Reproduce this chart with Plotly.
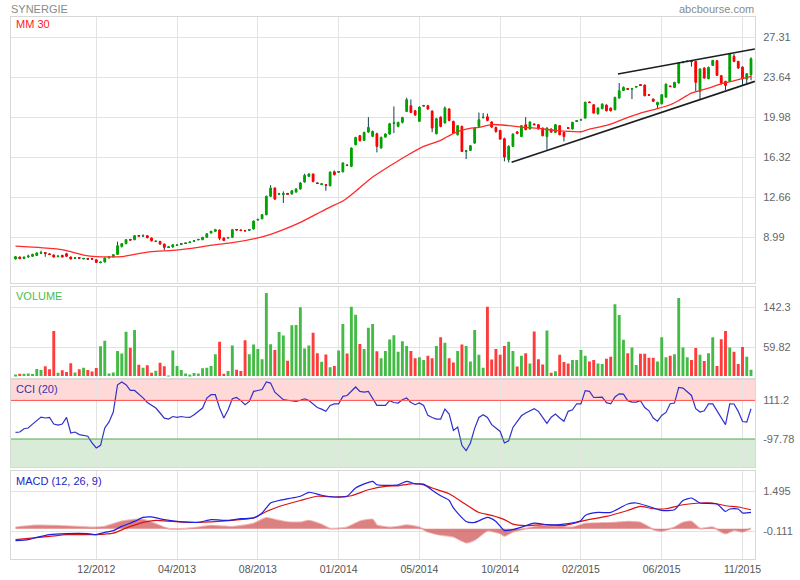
import plotly.graph_objects as go
from plotly.subplots import make_subplots

# ---------------- data ----------------
tick_idx = [19, 38, 57, 76, 95, 114, 133, 152, 171]
tick_labels = ["12/2012", "04/2013", "08/2013", "01/2014", "05/2014",
               "10/2014", "02/2015", "06/2015", "11/2015"]

opens = [7.00, 7.18, 7.03, 7.20, 7.24, 7.32, 7.55, 7.58, 7.44, 7.36,
         7.22, 7.33, 7.48, 7.18, 7.06, 7.11, 7.02, 7.01, 7.02, 6.93,
         6.68, 6.72, 7.09, 7.18, 7.42, 8.15, 8.40, 8.78, 8.76, 9.14,
         9.10, 9.13, 8.92, 8.59, 8.61, 8.37, 8.06, 8.09, 8.24, 8.36,
         8.42, 8.51, 8.63, 8.76, 8.76, 8.98, 9.37, 9.53, 9.65, 8.92,
         8.93, 8.98, 9.70, 9.64, 9.60, 9.64, 9.74, 10.58, 10.69, 11.05,
         12.73, 13.49, 12.92, 12.93, 12.98, 12.94, 13.12, 13.40, 14.04, 14.56,
         14.77, 13.94, 13.83, 13.78, 13.70, 14.98, 14.96, 14.98, 15.58, 15.47,
         17.45, 18.28, 17.85, 18.61, 18.22, 18.46, 17.15, 18.15, 18.43, 19.42,
         19.13, 19.50, 20.50, 21.02, 20.56, 19.59, 21.00, 21.02, 20.53, 18.46,
         19.98, 19.44, 20.72, 19.59, 18.37, 19.13, 16.85, 16.93, 17.60, 19.13,
         19.93, 20.01, 19.53, 19.04, 18.76, 18.00, 16.08, 17.30, 18.62, 18.20,
         19.28, 18.89, 19.34, 19.28, 18.98, 18.20, 18.89, 18.58, 19.19, 18.58,
         19.00, 18.89, 19.60, 19.72, 19.89, 21.35, 21.11, 20.29, 20.75, 21.08,
         20.81, 20.66, 21.72, 22.42, 22.57, 22.56, 22.74, 22.93, 22.91, 22.02,
         21.63, 21.11, 21.20, 21.81, 22.81, 22.70, 23.10, 24.97, 25.06, 25.10,
         25.08, 22.33, 24.47, 23.49, 24.71, 25.14, 23.77, 23.25, 23.25, 25.54,
         25.08, 24.56, 23.46, 23.86]

highs = [7.25, 7.22, 7.22, 7.40, 7.48, 7.60, 7.76, 7.62, 7.50, 7.42,
         7.30, 7.38, 7.56, 7.22, 7.14, 7.16, 7.10, 7.06, 7.05, 6.96,
         6.74, 7.12, 7.22, 7.42, 8.58, 8.45, 8.80, 8.84, 9.18, 9.20,
         9.25, 9.18, 8.96, 8.70, 8.65, 8.40, 8.15, 8.35, 8.32, 8.42,
         8.48, 8.56, 8.68, 8.82, 9.02, 9.35, 9.58, 9.75, 9.70, 8.98,
         9.00, 9.72, 9.74, 9.68, 9.66, 9.74, 10.52, 10.68, 11.12, 12.80,
         13.75, 13.55, 13.05, 13.18, 13.05, 13.30, 13.48, 14.05, 14.80, 14.85,
         14.82, 14.00, 13.90, 13.86, 15.00, 15.10, 15.02, 15.85, 15.65, 17.20,
         18.18, 18.35, 18.65, 19.98, 18.75, 18.55, 18.20, 18.50, 19.45, 20.96,
         19.55, 20.00, 21.75, 21.60, 20.62, 20.95, 21.10, 21.10, 20.60, 19.90,
         20.05, 20.95, 20.80, 19.65, 19.25, 19.20, 16.95, 17.42, 19.05, 20.40,
         20.35, 20.30, 19.60, 19.10, 18.82, 18.10, 17.40, 18.50, 18.70, 19.25,
         19.98, 19.60, 19.40, 19.35, 19.02, 19.05, 18.95, 19.35, 19.25, 18.62,
         19.05, 19.55, 19.70, 19.82, 21.40, 21.40, 21.18, 20.88, 21.25, 21.15,
         20.86, 21.85, 23.10, 22.78, 22.62, 22.65, 22.82, 22.97, 22.96, 22.06,
         21.68, 21.38, 22.08, 23.05, 22.85, 23.20, 25.00, 25.05, 25.12, 25.15,
         25.12, 24.45, 24.55, 24.60, 25.20, 25.20, 23.82, 23.30, 25.80, 25.75,
         25.12, 24.62, 24.00, 25.45]

lows = [6.95, 6.98, 7.00, 7.10, 7.20, 7.28, 7.45, 7.20, 7.35, 7.12,
        7.15, 7.12, 7.20, 6.95, 7.00, 7.02, 6.98, 6.95, 6.94, 6.66,
        6.60, 6.68, 7.05, 7.15, 7.40, 8.05, 8.35, 8.68, 8.72, 9.06,
        9.05, 8.90, 8.60, 8.55, 8.30, 7.79, 8.02, 8.05, 8.20, 8.30,
        8.38, 8.46, 8.58, 8.72, 8.72, 8.95, 9.34, 9.50, 8.72, 8.62,
        8.88, 8.95, 9.62, 9.55, 9.52, 9.60, 9.70, 10.50, 10.62, 11.00,
        12.68, 12.40, 12.85, 12.12, 12.90, 12.90, 13.08, 13.35, 14.00, 14.50,
        14.00, 13.85, 13.75, 13.24, 13.65, 14.65, 14.90, 14.92, 15.50, 15.40,
        17.40, 17.75, 17.80, 18.55, 18.15, 16.75, 17.10, 18.10, 18.38, 18.52,
        19.05, 19.40, 20.45, 20.35, 20.10, 19.55, 20.95, 20.65, 18.60, 18.40,
        19.05, 19.40, 19.60, 18.45, 18.30, 16.80, 16.14, 16.88, 17.55, 19.08,
        19.85, 19.60, 19.00, 18.55, 17.90, 15.93, 15.84, 17.25, 18.40, 18.15,
        18.78, 18.85, 19.25, 18.84, 18.22, 17.00, 18.55, 18.52, 18.32, 17.76,
        18.92, 18.85, 19.55, 19.68, 19.85, 21.28, 20.30, 20.20, 20.70, 20.50,
        20.50, 20.60, 21.68, 22.38, 22.50, 21.63, 22.70, 22.86, 21.88, 21.95,
        21.38, 20.75, 21.15, 21.76, 22.74, 22.65, 23.05, 24.90, 25.00, 24.60,
        22.33, 21.63, 23.50, 23.45, 24.66, 23.75, 22.95, 22.45, 23.20, 25.00,
        24.40, 22.90, 22.95, 23.35]

closes = [7.21, 7.03, 7.18, 7.26, 7.42, 7.55, 7.58, 7.52, 7.42, 7.18,
          7.26, 7.18, 7.24, 7.00, 7.10, 7.08, 7.05, 7.00, 6.99, 6.69,
          6.70, 7.09, 7.18, 7.39, 8.21, 8.40, 8.76, 8.74, 9.13, 9.11,
          9.14, 8.95, 8.67, 8.62, 8.37, 8.06, 8.09, 8.30, 8.27, 8.39,
          8.45, 8.54, 8.66, 8.79, 8.98, 9.31, 9.53, 9.68, 8.89, 8.70,
          8.97, 9.68, 9.66, 9.60, 9.58, 9.68, 10.47, 10.62, 11.05, 12.73,
          13.49, 12.48, 12.96, 12.96, 12.93, 13.24, 13.40, 13.95, 14.65, 14.77,
          14.10, 13.91, 13.86, 13.76, 14.95, 14.71, 14.99, 15.78, 15.55, 17.15,
          18.12, 17.82, 18.58, 19.04, 18.67, 17.30, 18.12, 18.43, 19.37, 19.46,
          19.50, 19.95, 21.57, 20.41, 20.17, 20.90, 21.04, 20.72, 18.98, 19.83,
          19.13, 20.81, 19.68, 18.52, 19.19, 16.84, 16.88, 17.36, 18.98, 19.74,
          19.97, 19.68, 19.07, 18.67, 17.97, 16.32, 17.30, 18.43, 18.50, 19.19,
          18.83, 19.53, 19.28, 18.89, 18.28, 18.98, 18.61, 19.28, 18.37, 18.20,
          18.96, 19.50, 19.64, 19.76, 21.33, 21.31, 20.35, 20.81, 21.17, 20.56,
          20.56, 21.78, 22.39, 22.70, 22.53, 22.60, 22.78, 22.89, 21.94, 21.98,
          21.42, 21.33, 22.03, 23.00, 22.77, 23.16, 24.93, 25.01, 25.10, 25.06,
          23.16, 24.38, 23.55, 24.53, 25.17, 23.80, 23.10, 22.88, 25.75, 25.08,
          24.47, 23.49, 23.95, 25.32]

volumes = [3.5, 4.9, 4.9, 5.6, 4.2, 14.6, 12.5, 20.1, 13.9, 92.9,
           7.0, 11.8, 8.3, 26.4, 7.6, 13.9, 17.3, 12.5, 9.7, 16.6,
           61.7, 72.8, 5.6, 7.6, 52, 46.5, 91.5, 58.3, 95, 23.6,
           17.3, 22.2, 7.0, 11.1, 27.7, 20.1, 1.4, 52.7, 20.8, 12.5,
           5.6, 2.8, 6.3, 5.6, 16, 17.3, 20.8, 45, 70.7, 4.9,
           10.4, 63, 13.2, 10.4, 74.2, 45, 65, 56, 34.7, 171.3,
           65.7, 53.9, 90.8, 83.9, 31.9, 104.8, 105.5, 142.3, 56.7, 63,
           89.4, 47.1, 29.8, 44.4, 18, 20.8, 52.7, 107.5, 46.5, 143,
           126.4, 66.4, 56, 100, 107.5, 51.4, 36.8, 52, 75.5, 84.5, 50,
           72, 62, 52, 37, 39, 33, 42, 37, 62, 80,
           69, 37, 28, 52, 65, 62, 30, 95, 44, 17,
           143, 34, 56, 44, 62, 71, 52, 20, 42, 47,
           26, 92, 35, 24, 94, 7, 10, 44, 29, 26,
           33, 33, 54, 42, 30, 33, 26, 25, 36, 40,
           148, 126, 75, 47, 59, 23, 46, 46, 38, 38,
           30, 80, 39, 42, 45, 161, 59, 39, 33, 58,
           44, 31, 47, 80, 21, 76, 93, 59, 50, 25,
           60, 40, 13]

mm30_idx = [0, 4, 10, 12, 16, 19, 25, 28, 32, 37, 43, 47, 51, 57, 60, 63, 67,
            71, 74, 77, 80, 84, 88, 92, 96, 100, 103, 106, 109, 112, 116, 119,
            123, 127, 133, 135, 139, 143, 147, 151, 154, 156, 159, 163, 166, 170, 173]
mm30_val = [8.18, 8.09, 7.91, 7.76, 7.36, 7.21, 7.21, 7.42, 7.67, 7.79, 8.06, 8.31,
            8.49, 8.92, 9.25, 9.68, 10.35, 11.15, 11.75, 12.30, 13.20, 14.50, 15.50,
            16.45, 17.30, 17.85, 18.50, 18.89, 19.05, 19.30, 19.20, 19.07, 18.95,
            18.76, 18.64, 18.89, 19.22, 19.80, 20.35, 20.75, 21.11, 21.50, 22.18,
            22.64, 23.03, 23.40, 23.70]

trend_lower_idx = [116.7, 173.9]
trend_lower_val = [15.84, 23.25]
trend_upper_idx = [141.7, 173.9]
trend_upper_val = [23.92, 26.21]

cci_val = [-62, -60, -42, -38, -17, 2, 21, 16, 19, -17, -23, -17, 19, -65, -60, -74,
           -80, -83, -119, -146, -132, -38, -5, 48, 196, 211, 196, 165, 165, 146,
           125, 100, 83, 70, 43, 15, 10, 24, 19, 24, 20, 19, 34, 52, 70, 124, 142,
           142, 70, 16, 61, 120, 127, 110, 88, 106, 160, 165, 170, 211, 205, 156,
           136, 115, 112, 111, 106, 112, 120, 110, 92, 73, 64, 52, 84, 92, 92, 133,
           138, 160, 184, 160, 156, 160, 120, 84, 84, 84, 110, 100, 97, 115, 124,
           100, 88, 97, 84, 30, 19, 10, 10, 64, 37, -51, -33, -132, -161, -119, -40,
           19, 34, 19, -20, -40, -57, -119, -107, -35, 0, 28, 43, 55, 66, 52, 20,
           -13, 20, 37, 16, -2, 52, 60, 93, 92, 164, 160, 127, 128, 129, 99, 93, 130,
           147, 145, 110, 102, 102, 110, 73, 55, 16, -1, 30, 46, 93, 97, 182, 178,
           160, 138, 66, 48, 55, 92, 92, 52, 16, -20, 93, 92, 52, -3, -6, 66]

macd_idx = [0, 3, 5, 8, 12, 17, 19, 21, 23, 25, 28, 30, 32, 35, 38, 43, 46, 50, 53,
            56, 58, 60, 62, 65, 67, 69, 72, 75, 78, 80, 84, 85, 88, 90, 92, 94, 96,
            98, 100, 102, 103, 106, 108, 111, 113, 115, 117, 119, 122, 125, 128, 130,
            133, 134, 137, 140, 144, 146, 149, 152, 155, 157, 159, 161, 165, 167, 168,
            170, 171, 173]
macd_val = [-0.48, -0.44, -0.35, -0.24, -0.20, -0.20, -0.24, -0.15, -0.08, 0.09, 0.29,
            0.45, 0.47, 0.36, 0.29, 0.25, 0.36, 0.33, 0.40, 0.43, 0.63, 1.03, 1.13, 1.23,
            1.30, 1.46, 1.34, 1.27, 1.30, 1.63, 1.90, 1.76, 1.74, 1.76, 1.90, 1.80, 1.79,
            1.54, 1.32, 1.14, 0.83, 0.29, 0.25, 0.45, 0.29, -0.07, -0.04, 0.06, 0.22,
            0.16, 0.16, 0.20, 0.33, 0.53, 0.65, 0.65, 0.99, 1.03, 0.89, 0.73, 0.76, 1.13,
            1.23, 1.03, 0.99, 0.69, 0.79, 0.79, 0.63, 0.65]

signal_idx = [0, 8, 12, 19, 23, 26, 30, 33, 37, 43, 50, 56, 59, 62, 67, 71, 75, 79, 83,
              87, 90, 93, 96, 98, 102, 106, 109, 112, 115, 117, 120, 124, 129, 131, 134,
              139, 144, 147, 150, 153, 157, 161, 164, 167, 170, 173]
signal_val = [-0.44, -0.31, -0.24, -0.24, -0.18, 0.02, 0.25, 0.33, 0.29, 0.25, 0.32,
              0.43, 0.69, 0.89, 1.13, 1.30, 1.27, 1.32, 1.56, 1.70, 1.72, 1.80, 1.76,
              1.63, 1.40, 0.96, 0.65, 0.53, 0.36, 0.18, 0.12, 0.16, 0.12, 0.20, 0.33,
              0.49, 0.73, 0.89, 0.80, 0.80, 0.96, 1.03, 1.03, 0.92, 0.87, 0.76]

hist_idx = [0, 4, 12, 18, 21, 25, 28, 30, 32, 35, 36, 40, 43, 46, 51, 56, 59, 61, 64,
            67, 69, 72, 74, 78, 81, 84, 85, 88, 90, 92, 95, 97, 100, 103, 106, 108, 111,
            114, 115, 117, 120, 123, 128, 131, 134, 141, 144, 147, 150, 152, 155, 157,
            159, 161, 164, 167, 169, 171, 173]
hist_val = [0.05, 0.12, 0.10, 0.05, 0.08, 0.29, 0.36, 0.36, 0.25, 0.05, 0.0, 0.0, 0.05,
            0.12, 0.07, 0.20, 0.43, 0.36, 0.26, 0.25, 0.32, 0.16, 0.0, 0.05, 0.29, 0.36,
            0.13, 0.05, 0.08, 0.14, 0.05, -0.12, -0.25, -0.32, -0.56, -0.45, -0.08,
            -0.19, -0.29, -0.12, 0.0, 0.10, 0.07, 0.05, 0.20, 0.24, 0.28, 0.24, -0.03,
            -0.09, 0.05, 0.24, 0.28, 0.0, 0.05, -0.19, -0.05, -0.12, 0.01]

price_ticks = [8.99, 12.66, 16.32, 19.98, 23.64, 27.31]
vol_ticks = [59.82, 142.3]
cci_levels = [-97.78, 111.2]
macd_ticks = [-0.111, 1.495]

# ---------------- figure ----------------
idx = list(range(len(closes)))
X_RANGE = [-1.06, 173.94]
PRICE_RANGE = [4.80, 29.14]
VOL_RANGE = [-6, 183]
CCI_RANGE = [-249.4, 227.1]
MACD_RANGE = [-1.219, 2.298]

GRID = "#e3e3e3"
BORDER = "#d8d8d8"
FONT = "Liberation Sans, Arial, sans-serif"

fig = make_subplots(rows=4, cols=1, shared_xaxes=True, vertical_spacing=0.0)

mids = [(o + c) / 2 for o, c in zip(opens, closes)]
wick = "#163d52"
fig.add_trace(go.Candlestick(
    x=idx, open=mids, high=highs, low=lows, close=mids,
    increasing=dict(line=dict(color=wick, width=1), fillcolor=wick),
    decreasing=dict(line=dict(color=wick, width=1), fillcolor=wick),
    hoverinfo="skip", showlegend=False), row=1, col=1)
fig.add_trace(go.Candlestick(
    x=idx, open=opens, close=closes,
    high=[max(o, c) for o, c in zip(opens, closes)],
    low=[min(o, c) for o, c in zip(opens, closes)],
    increasing=dict(line=dict(color="#00a300", width=1), fillcolor="#00a300"),
    decreasing=dict(line=dict(color="#ff0000", width=1), fillcolor="#ff0000"),
    hoverinfo="skip", showlegend=False), row=1, col=1)

fig.add_trace(go.Scatter(x=mm30_idx, y=mm30_val, mode="lines",
                         line=dict(color="#ff2a2a", width=1.3, shape="spline", smoothing=0.6),
                         hoverinfo="skip"), row=1, col=1)
for tx, ty in ((trend_lower_idx, trend_lower_val), (trend_upper_idx, trend_upper_val)):
    fig.add_trace(go.Scatter(x=tx, y=ty, mode="lines",
                             line=dict(color="#1e1e1e", width=1.6), hoverinfo="skip"),
                  row=1, col=1)

vol_colors = ["#44bb44" if c >= o else "#ff3c3c" for o, c in zip(opens, closes)]
fig.add_trace(go.Bar(x=idx, y=volumes, marker=dict(color=vol_colors, line=dict(width=0)),
                     width=0.68, hoverinfo="skip"), row=2, col=1)

fig.add_trace(go.Scatter(x=idx, y=cci_val, mode="lines",
                         line=dict(color="#3232c8", width=1.2), hoverinfo="skip"),
              row=3, col=1)

fig.add_trace(go.Scatter(x=hist_idx, y=hist_val, mode="lines", fill="tozeroy",
                         line=dict(color="rgba(225,120,120,0.55)", width=2, shape="spline", smoothing=0.5),
                         fillcolor="rgba(205,75,75,0.70)", hoverinfo="skip"), row=4, col=1)
fig.add_trace(go.Scatter(x=signal_idx, y=signal_val, mode="lines",
                         line=dict(color="#dd1111", width=1.2, shape="spline", smoothing=0.6),
                         hoverinfo="skip"), row=4, col=1)
fig.add_trace(go.Scatter(x=macd_idx, y=macd_val, mode="lines",
                         line=dict(color="#2020dd", width=1.2, shape="spline", smoothing=0.6),
                         hoverinfo="skip"), row=4, col=1)

# CCI zones
fig.add_shape(type="rect", xref="x3 domain", yref="y3", x0=0, x1=1,
              y0=cci_levels[1], y1=CCI_RANGE[1], fillcolor="rgba(255,60,60,0.2)",
              line=dict(width=0), layer="below")
fig.add_shape(type="rect", xref="x3 domain", yref="y3", x0=0, x1=1,
              y0=CCI_RANGE[0], y1=cci_levels[0], fillcolor="rgba(40,150,40,0.18)",
              line=dict(width=0), layer="below")
fig.add_shape(type="line", xref="x3 domain", yref="y3", x0=0, x1=1,
              y0=cci_levels[1], y1=cci_levels[1], line=dict(color="#ff5050", width=1))
fig.add_shape(type="line", xref="x3 domain", yref="y3", x0=0, x1=1,
              y0=cci_levels[0], y1=cci_levels[0], line=dict(color="#4caa4c", width=1))

fig.update_xaxes(range=X_RANGE, tickvals=tick_idx, ticktext=tick_labels,
                 showgrid=True, gridcolor=GRID, gridwidth=1, zeroline=False,
                 showline=True, mirror=True, linecolor=BORDER, ticks="",
                 rangeslider_visible=False, showticklabels=False, automargin=False,
                 tickfont=dict(size=10.5, color="#555", family=FONT))
fig.update_xaxes(showticklabels=True, row=4, col=1)

common_y = dict(side="right", showgrid=True, gridcolor=GRID, zeroline=False,
                showline=True, mirror=True, linecolor=BORDER, ticks="",
                automargin=False,
                ticklabelstandoff=5, tickfont=dict(size=11, color="#666", family=FONT))
fig.update_yaxes(range=PRICE_RANGE, tickvals=price_ticks,
                 ticktext=[str(v) for v in price_ticks], domain=[0.5092, 1.0],
                 row=1, col=1, **common_y)
fig.update_yaxes(range=VOL_RANGE, tickvals=vol_ticks,
                 ticktext=[str(v) for v in vol_ticks], domain=[0.3321, 0.5011],
                 row=2, col=1, **common_y)
fig.update_yaxes(range=CCI_RANGE, tickvals=cci_levels,
                 ticktext=[str(v) for v in cci_levels], domain=[0.1697, 0.3321],
                 row=3, col=1, **{**common_y, "showgrid": False})
fig.update_yaxes(range=MACD_RANGE, tickvals=macd_ticks,
                 ticktext=[str(v) for v in macd_ticks], domain=[0.0, 0.1616],
                 row=4, col=1, **common_y)

L, R, T, B = 11, 45, 17, 21
W, H = 800, 580


def px(xp, yp):
    return (xp - L) / (W - L - R), (H - B - yp) / (H - T - B)


def label(text, xp, yp, color, anchor="left", size=10.5):
    ax, ay = px(xp, yp)
    fig.add_annotation(text=text, xref="paper", yref="paper", x=ax, y=ay,
                       xanchor=anchor, yanchor="middle", showarrow=False,
                       font=dict(size=size, color=color, family=FONT))


label("SYNERGIE", 9, 9, "#8a8a8a", size=11)
label("abcbourse.com", 756, 9, "#8a8a8a", anchor="right", size=11)
label("MM 30", 14, 24.5, "#ff1a1a", size=11)
label("VOLUME", 14, 296, "#4cbb4c", size=11)
label("CCI (20)", 14, 389, "#3434a8", size=11)
label("MACD (12, 26, 9)", 14, 481, "#2424c0", size=11)

fig.update_layout(width=W, height=H, margin=dict(l=L, r=R, t=T, b=B, autoexpand=False),
                  paper_bgcolor="white", plot_bgcolor="white", showlegend=False,
                  boxgap=0.4, hovermode=False,
                  font=dict(family=FONT, color="#666", size=11))

fig.write_html("out.html", config={"displayModeBar": False},
               post_script="document.body.style.margin='0';document.body.style.overflow='hidden';")
